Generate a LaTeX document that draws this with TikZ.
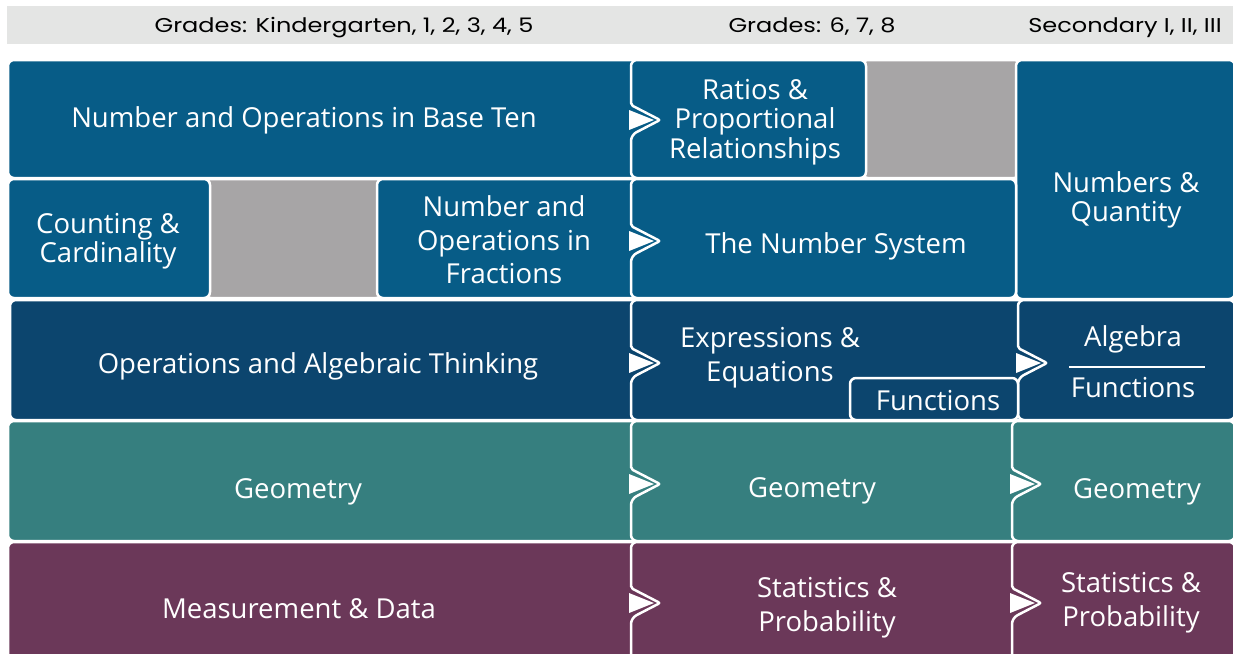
\documentclass[tikz,border=0pt]{standalone}
\usepackage{fontspec}
\setmainfont{Open Sans}
\newfontfamily\hdrfont[FakeStretch=1.2]{Poppins}
\definecolor{bandgray}{HTML}{E4E5E4}
\definecolor{cblue}{HTML}{075C87}
\definecolor{cnavy}{HTML}{0C456E}
\definecolor{cteal}{HTML}{367F7F}
\definecolor{cplum}{HTML}{6B3859}
\definecolor{cgray}{HTML}{A7A5A6}
\tikzset{
  boxshape/.style={draw=white, line width=2.5pt, rounded corners=6pt},
  lbl/.style={text=white, align=center, inner sep=0pt, font=\fontsize{27.5}{29.5}\selectfont},
  hdr/.style={text=black, inner sep=0pt, anchor=base, font=\hdrfont\fontsize{20}{22}\selectfont},
}
% plain rounded box: colour, x1, y1, x2, y2
\newcommand{\pbox}[5]{\path[boxshape, fill=#1] (#2,#3) rectangle (#4,#5);}
% box with arrow notch on its left edge: colour, x1, y1, x2, y2, y of arrow
\newcommand{\nbox}[6]{%
  \path[boxshape, fill=#1] (#2,#3) -- (#4,#3) -- (#4,#5) -- (#2,#5) -- (#2,#6+15) [rounded corners=2pt] -- (#2+29,#6) -- (#2,#6-15) [rounded corners=6pt] -- cycle;
  \fill[white] (#2-2,#6-10) -- (#2+23,#6) -- (#2-2,#6+10) -- cycle;}
\begin{document}
\begin{tikzpicture}[x=1pt,y=-1pt]
\useasboundingbox (0,0) rectangle (1233,653);
\clip (0,0) rectangle (1233,653);
% header band
\fill[bandgray] (7,6) rectangle (1233,44);
\node[hdr] (h1) at (344,32) {Grades: Kindergarten, 1, 2, 3, 4, 5};
\node[hdr] (h2) at (812,32) {Grades: 6, 7, 8};
\node[hdr] (h3) at (1125,32) {Secondary I, II, III};
% row 1
\pbox{cgray}{862}{60}{1020}{178}
\pbox{cblue}{8}{60}{672}{178}
\nbox{cblue}{631}{60}{866}{178}{120}
\pbox{cblue}{1016}{60}{1235}{299}
% row 2
\pbox{cgray}{205}{179}{382}{298}
\pbox{cblue}{8}{179}{210}{298}
\pbox{cblue}{377}{179}{672}{298}
\nbox{cblue}{631}{179}{1016}{298}{241}
% row 3
\pbox{cnavy}{10}{300}{672}{420}
\nbox{cnavy}{631}{300}{1060}{420}{363}
\nbox{cnavy}{1018}{300}{1235}{420}{363}
\pbox{cnavy}{850}{378}{1018}{420}
% row 4
\pbox{cteal}{8}{421}{672}{541}
\nbox{cteal}{631}{421}{1054}{541}{484}
\nbox{cteal}{1012}{421}{1235}{541}{484}
% row 5
\pbox{cplum}{8}{542}{672}{680}
\nbox{cplum}{631}{542}{1054}{680}{603}
\nbox{cplum}{1012}{542}{1235}{680}{603}
% labels
\node[lbl] (nbt) at (304,120) {Number and Operations in Base Ten};
\node[lbl] (rat) at (755,122) {Ratios \&\\Proportional\\Relationships};
\node[lbl] (nq) at (1126,200) {Numbers \&\\Quantity};
\node[lbl, font=\fontsize{27.5}{28.5}\selectfont] (cc) at (108,241) {Counting \&\\Cardinality};
\node[lbl, font=\fontsize{27.5}{33.5}\selectfont] (nof) at (504,240) {Number and\\Operations in\\Fractions};
\node[lbl] (ns) at (836,246) {The Number System};
\node[lbl] (oat) at (318,366) {Operations and Algebraic Thinking};
\node[lbl, font=\fontsize{27.5}{34}\selectfont] (ee) at (770,358) {Expressions \&\\Equations};
\node[lbl] (fn) at (938,401) {Functions};
\node[lbl] (alg) at (1133,339) {Algebra};
\node[lbl] (fn2) at (1133,388) {Functions};
\draw[white, line width=1.2pt] (1069,367) -- (1205,367);
\node[lbl] (g1) at (298,492) {Geometry};
\node[lbl] (g2) at (812,491) {Geometry};
\node[lbl] (g3) at (1137,492) {Geometry};
\node[lbl] (md) at (299,609) {Measurement \& Data};
\node[lbl, font=\fontsize{27.5}{34}\selectfont] (sp1) at (827,608) {Statistics \&\\Probability};
\node[lbl, font=\fontsize{27.5}{34}\selectfont] (sp2) at (1131,603) {Statistics \&\\Probability};
\end{tikzpicture}
\end{document}
